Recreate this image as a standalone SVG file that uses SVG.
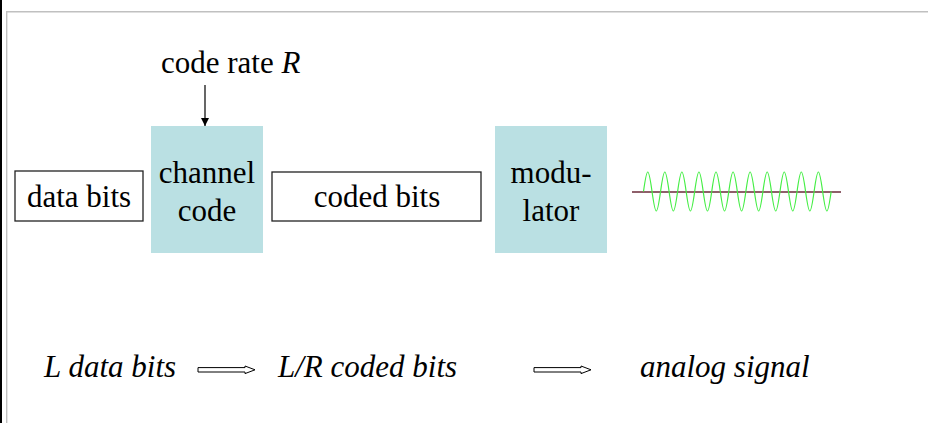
<svg xmlns="http://www.w3.org/2000/svg" width="928" height="423" viewBox="0 0 928 423">
  <style>
    text { font-family: "Liberation Serif", "Times New Roman", serif; font-size: 31px; fill: #000; }
    .it { font-style: italic; }
    .mid { text-anchor: middle; }
    .plain { fill: #fff; stroke: #222; stroke-width: 1.3; }
    .block { fill: #bae0e3; stroke: none; }
    .frame { stroke: #c0c0c0; stroke-width: 1.4; fill: none; }
    .hollow { fill: #fff; stroke: #000; stroke-width: 1; stroke-linejoin: miter; }
  </style>
  <defs>
    <marker id="tip" markerWidth="8" markerHeight="8" refX="8" refY="4" orient="auto" markerUnits="userSpaceOnUse">
      <path d="M0,0 L8,4 L0,8 Z" fill="#000"/>
    </marker>
    <!-- one period of the carrier, built from four cubic quarter-waves -->
    <path id="cycle" d="M0,0 c1.391,-9.99 2.7215,-19.5 4.265,-19.5 c1.5435,0 2.874,9.51 4.265,19.5 c1.391,9.99 2.7215,19.5 4.265,19.5 c1.5435,0 2.874,-9.51 4.265,-19.5" fill="none" stroke="#44ee44" stroke-width="1.2"/>
  </defs>

  <rect width="928" height="423" fill="#fff"/>
  <!-- page frame -->
  <rect x="0" y="0" width="2" height="423" fill="#000"/>
  <path class="frame" d="M6.7,423 V11.7 H928"/>

  <g id="data-bits">
    <rect class="plain" x="15" y="171" width="128" height="50"/>
    <text class="mid" x="79" y="207">data bits</text>
  </g>

  <g id="channel-code">
    <rect class="block" x="151" y="126" width="112" height="127"/>
    <text class="mid" x="207" y="183">channel</text>
    <text class="mid" x="207" y="221">code</text>
  </g>

  <g id="code-rate">
    <text x="161" y="73">code rate <tspan class="it">R</tspan></text>
  </g>

  <g id="coded-bits">
    <rect class="plain" x="272" y="172" width="209" height="49"/>
    <text class="mid" x="377" y="207">coded bits</text>
  </g>

  <g id="modulator">
    <rect class="block" x="495" y="126" width="112" height="127"/>
    <text class="mid" x="551" y="183">modu-</text>
    <text class="mid" x="551" y="221">lator</text>
  </g>

  <g id="signal">
    <line x1="632" y1="192" x2="841" y2="192" stroke="#6a2a38" stroke-width="1.5"/>
    <g transform="translate(643.5,191.5)">
      <use href="#cycle" x="0"/>
      <use href="#cycle" x="17.06"/>
      <use href="#cycle" x="34.12"/>
      <use href="#cycle" x="51.18"/>
      <use href="#cycle" x="68.24"/>
      <use href="#cycle" x="85.3"/>
      <use href="#cycle" x="102.36"/>
      <use href="#cycle" x="119.42"/>
      <use href="#cycle" x="136.48"/>
      <use href="#cycle" x="153.54"/>
      <use href="#cycle" x="170.6"/>
    </g>
  </g>

  <g id="labels">
    <text class="it" x="44" y="377">L data bits</text>
    <text class="it" x="278" y="377">L/R coded bits</text>
    <text class="it" x="640" y="377">analog signal</text>
  </g>

  <g id="connectors">
    <line x1="205" y1="85" x2="205" y2="126" stroke="#000" stroke-width="1.2" marker-end="url(#tip)"/>
    <polygon class="hollow" points="198,367.6 245,367.6 245,366 255,369.8 245,373.6 245,372 198,372"/>
    <polygon class="hollow" points="534,367.6 581,367.6 581,366 591,369.8 581,373.6 581,372 534,372"/>
  </g>
</svg>
